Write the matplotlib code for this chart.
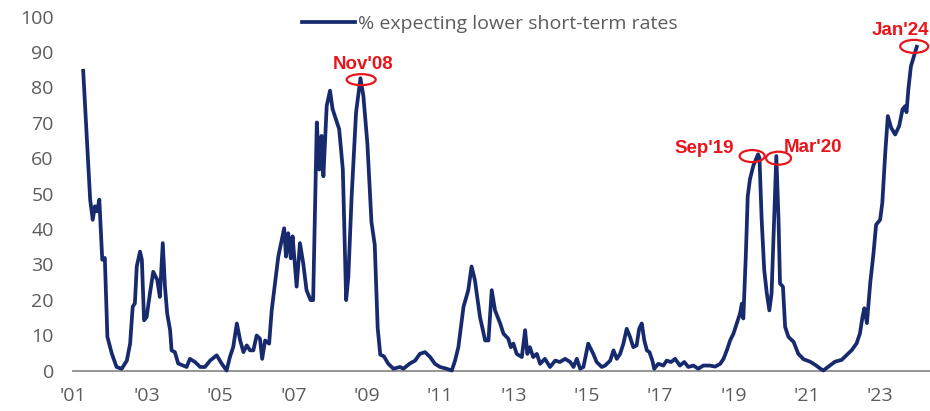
import matplotlib
matplotlib.use('agg')
import matplotlib.pyplot as plt
from matplotlib.patches import Ellipse

# survey: share of respondents expecting lower short-term rates (decimal year, %)
dates = [2001.27, 2001.46, 2001.53, 2001.59, 2001.65, 2001.71, 2001.79, 2001.86, 2001.93,
         2002.05, 2002.18, 2002.32, 2002.46, 2002.55, 2002.62, 2002.68, 2002.73, 2002.82,
         2002.87, 2002.93, 2003.00, 2003.09, 2003.18, 2003.29, 2003.36, 2003.44, 2003.50,
         2003.56, 2003.64, 2003.68, 2003.77, 2003.86, 2004.00, 2004.09, 2004.18, 2004.32,
         2004.46, 2004.59, 2004.73, 2004.91, 2005.05, 2005.18, 2005.27, 2005.36, 2005.46,
         2005.55, 2005.64, 2005.73, 2005.82, 2005.91, 2006.00, 2006.09, 2006.15, 2006.23,
         2006.34, 2006.41, 2006.50, 2006.59, 2006.75, 2006.80, 2006.86, 2006.93, 2006.98,
         2007.09, 2007.18, 2007.27, 2007.36, 2007.47, 2007.54, 2007.64, 2007.71, 2007.77,
         2007.82, 2007.91, 2008.00, 2008.07, 2008.16, 2008.25, 2008.35, 2008.44, 2008.50,
         2008.59, 2008.71, 2008.83, 2008.91, 2009.02, 2009.13, 2009.22, 2009.30, 2009.37,
         2009.47, 2009.59, 2009.73, 2009.91, 2010.00, 2010.18, 2010.32, 2010.45, 2010.59,
         2010.73, 2010.86, 2011.00, 2011.18, 2011.32, 2011.41, 2011.50, 2011.64, 2011.77,
         2011.86, 2011.95, 2012.09, 2012.23, 2012.32, 2012.41, 2012.50, 2012.64, 2012.73,
         2012.86, 2012.93, 2013.00, 2013.09, 2013.23, 2013.32, 2013.38, 2013.45, 2013.54,
         2013.64, 2013.73, 2013.86, 2014.00, 2014.14, 2014.27, 2014.41, 2014.55, 2014.64,
         2014.73, 2014.82, 2014.91, 2015.04, 2015.18, 2015.27, 2015.41, 2015.50, 2015.64,
         2015.73, 2015.82, 2015.91, 2016.00, 2016.09, 2016.18, 2016.27, 2016.36, 2016.43,
         2016.50, 2016.57, 2016.64, 2016.71, 2016.79, 2016.84, 2016.95, 2017.09, 2017.18,
         2017.30, 2017.41, 2017.54, 2017.66, 2017.77, 2017.91, 2018.04, 2018.18, 2018.36,
         2018.50, 2018.64, 2018.73, 2018.82, 2018.91, 2019.00, 2019.09, 2019.18, 2019.23,
         2019.27, 2019.34, 2019.39, 2019.45, 2019.54, 2019.67, 2019.71, 2019.77, 2019.84,
         2019.91, 2019.98, 2020.04, 2020.11, 2020.17, 2020.23, 2020.27, 2020.35, 2020.41,
         2020.50, 2020.64, 2020.77, 2020.91, 2021.09, 2021.23, 2021.36, 2021.45, 2021.59,
         2021.77, 2021.95, 2022.09, 2022.23, 2022.36, 2022.45, 2022.52, 2022.57, 2022.64,
         2022.73, 2022.82, 2022.89, 2023.00, 2023.06, 2023.14, 2023.21, 2023.30, 2023.41,
         2023.52, 2023.61, 2023.68, 2023.72, 2023.77, 2023.84, 2024.00]
values = [84.7, 48.3, 42.6, 46.4, 45.0, 48.3, 31.3, 31.8, 9.5,
          4.8, 1.0, 0.5, 2.8, 7.6, 18.0, 19.0, 29.4, 33.6,
          31.3, 14.2, 15.1, 21.8, 27.9, 25.6, 20.8, 36.0, 23.7,
          16.1, 11.4, 5.7, 5.2, 2.0, 1.4, 1.0, 3.3, 2.4,
          1.0, 1.0, 2.8, 4.3, 1.9, 0.0, 3.8, 6.6, 13.3,
          8.5, 5.2, 7.1, 5.7, 5.7, 9.9, 9.0, 3.3, 8.5,
          7.6, 17.0, 24.6, 32.2, 40.2, 32.2, 38.8, 31.7, 37.9,
          23.7, 36.0, 30.3, 22.7, 19.9, 19.9, 70.1, 56.8, 66.3,
          54.9, 74.8, 79.1, 73.9, 71.0, 68.2, 56.8, 19.9, 26.5,
          49.2, 72.9, 82.6, 77.6, 64.0, 42.0, 35.5, 12.0, 4.5,
          4.0, 1.9, 0.5, 1.0, 0.5, 2.0, 2.8, 4.7, 5.2,
          3.8, 1.9, 1.0, 0.5, 0.0, 2.8, 6.6, 18.0, 22.7,
          29.4, 25.6, 15.1, 8.5, 8.5, 22.7, 17.0, 13.3, 10.4,
          9.0, 6.6, 7.6, 4.7, 3.8, 11.4, 4.7, 6.6, 3.8,
          4.7, 1.9, 3.3, 1.0, 2.8, 2.4, 3.3, 2.4, 1.0,
          3.3, 0.5, 1.0, 7.6, 4.7, 2.4, 1.0, 1.4, 2.8,
          5.7, 3.3, 4.7, 7.6, 11.8, 9.5, 6.6, 7.1, 11.8,
          13.3, 8.5, 5.7, 5.2, 2.8, 0.5, 1.9, 1.4, 2.8,
          2.4, 3.3, 1.4, 2.4, 1.0, 1.4, 0.5, 1.4, 1.4,
          1.1, 1.9, 3.3, 5.7, 8.5, 10.4, 13.3, 16.1, 18.9,
          14.7, 33.1, 49.2, 54.0, 57.8, 61.1, 60.1, 42.6, 28.4,
          21.8, 17.0, 21.8, 42.6, 60.6, 42.6, 24.6, 23.7, 12.3,
          9.5, 8.1, 4.7, 3.2, 2.5, 1.6, 0.6, 0.0, 1.1,
          2.5, 3.0, 4.4, 5.8, 7.7, 10.5, 15.2, 17.6, 13.4,
          24.7, 33.2, 41.2, 42.6, 47.4, 61.5, 71.9, 68.6, 66.7,
          69.1, 73.8, 74.7, 73.0, 79.5, 86.0, 91.5]

year_ticks = list(range(2001, 2024, 2))
year_labels = ["'%02d" % (y % 100) for y in year_ticks]

# highlighted turning points: label, ring centre (date, value)
callout_names = ["Nov'08", "Sep'19", "Mar'20", "Jan'24"]
callout_dates = [2008.85, 2019.51, 2020.23, 2023.93]
callout_values = [82.2, 60.6, 60.0, 91.6]

navy = '#172a6e'
red = '#e8151b'
grey_txt = '#5c5c5c'

fig = plt.figure(figsize=(9.30, 4.11), dpi=100)
ax = fig.add_axes([0.0788, 0.0985, 0.9212, 0.861])

ax.plot(dates, values, color=navy, lw=2.7, solid_joinstyle='round',
        clip_on=False, label='% expecting lower short-term rates', zorder=3)

ax.set_xlim(2001.0, 2024.36)
ax.set_ylim(0, 100)
ax.set_yticks(range(0, 101, 10))
ax.set_xticks(year_ticks)
ax.set_xticklabels(year_labels)

for side in ['top', 'right', 'left']:
    ax.spines[side].set_visible(False)
ax.spines['bottom'].set_color('#8c8c8c')
ax.spines['bottom'].set_linewidth(1.3)
ax.spines['bottom'].set_zorder(2)

ax.tick_params(axis='both', length=0, labelsize=14, labelcolor=grey_txt)
ax.tick_params(axis='y', pad=14)
ax.tick_params(axis='x', pad=12)
for lab in ax.get_xticklabels() + ax.get_yticklabels():
    lab.set_family('Open Sans')

leg = ax.legend(loc='center', bbox_to_anchor=(0.486, 0.98), frameon=False,
                handlelength=2.7, handletextpad=0.15, borderaxespad=0,
                prop={'family': 'Open Sans', 'size': 14})
for t in leg.get_texts():
    t.set_color(grey_txt)

# red rings and labels on the peaks (sizes/offsets in pixels)
yr_px = 36.67
val_px = 3.538
ring_w = [29, 25, 25, 28]
ring_h = [11, 12, 13, 13]
text_dx = [2, -48, 34, -14]
text_dy = [15, 8, 11, 16]
for i, name in enumerate(callout_names):
    d, v = callout_dates[i], callout_values[i]
    ax.add_patch(Ellipse((d, v), ring_w[i] / yr_px, ring_h[i] / val_px, fill=False,
                         edgecolor=red, lw=1.6, clip_on=False, zorder=4))
    ax.text(d + text_dx[i] / yr_px, v + text_dy[i] / val_px, name, color=red,
            fontsize=13.5, fontweight='bold', family='Liberation Sans',
            ha='center', va='center', zorder=5, clip_on=False)

fig.savefig('out.png', dpi=100)
plt.close(fig)
